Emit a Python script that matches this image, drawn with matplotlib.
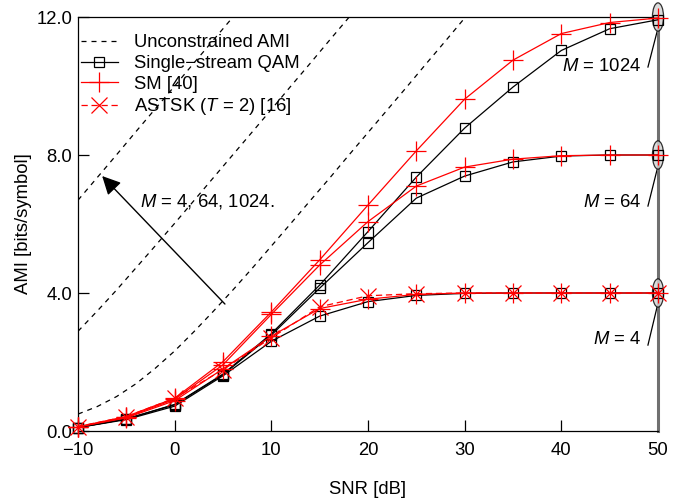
import matplotlib
matplotlib.use("Agg")
import matplotlib.pyplot as plt
from matplotlib.patches import Ellipse

# === Fonts ===
plt.rcParams['font.family'] = ['Liberation Sans', 'DejaVu Sans']
plt.rcParams['mathtext.fontset'] = 'custom'
plt.rcParams['mathtext.rm'] = 'Liberation Sans'
plt.rcParams['mathtext.it'] = 'Liberation Sans:italic'
FS = 13.3

# === Data ===
snr = [-10, -5, 0, 5, 10, 15, 20, 25, 30, 35, 40, 45, 50]

qam_4 = [0.10, 0.33, 0.72, 1.60, 2.60, 3.33, 3.75, 3.93, 3.99, 4.0, 4.0, 4.0, 4.0]
sm_4 = [0.12, 0.38, 0.88, 1.80, 2.75, 3.55, 3.82, 3.96, 4.0, 4.0, 4.0, 4.0, 4.0]
astsk_4 = [0.13, 0.42, 0.95, 1.78, 2.70, 3.60, 3.92, 3.98, 4.0, 4.0, 4.0, 4.0, 4.0]

qam_64 = [0.10, 0.35, 0.76, 1.63, 2.78, 4.14, 5.46, 6.75, 7.39, 7.80, 7.97, 8.0, 8.0]
sm_64 = [0.12, 0.40, 0.92, 1.92, 3.38, 4.81, 6.07, 7.10, 7.65, 7.88, 7.98, 8.0, 8.0]

qam_1024 = [0.10, 0.35, 0.77, 1.65, 2.82, 4.23, 5.78, 7.36, 8.78, 9.97, 11.03, 11.66, 11.92]
sm_1024 = [0.12, 0.42, 0.95, 2.01, 3.45, 4.96, 6.55, 8.12, 9.62, 10.75, 11.52, 11.84, 11.97]

# unconstrained AMI curves (every 2 dB)
snr_ua4 = list(range(-10, 33, 2))
ua_4 = [0.49, 0.71, 1.00, 1.37, 1.82, 2.32, 2.88, 3.47, 4.08, 4.71, 5.36,
        6.01, 6.67, 7.32, 7.99, 8.65, 9.31, 9.97, 10.64, 11.30, 11.97, 12.63]
snr_ua64 = list(range(-10, 21, 2))
ua_64 = [2.89, 3.48, 4.09, 4.73, 5.37, 6.02, 6.68, 7.34, 8.00, 8.66, 9.32,
         9.99, 10.65, 11.32, 11.98, 12.64]
snr_ua1024 = list(range(-10, 9, 2))
ua_1024 = [6.69, 7.35, 8.01, 8.68, 9.34, 10.00, 10.67, 11.33, 11.99, 12.66]

# === Figure ===
fig = plt.figure(figsize=(6.91, 5.01), dpi=100)
ax = fig.add_axes([78 / 691, 1 - 431 / 501, 580 / 691, 414 / 501])

dash_ua = dict(color='black', lw=0.9, ls=(0, (4, 4)))
ax.plot(snr_ua4, ua_4, label='Unconstrained AMI', **dash_ua)
ax.plot(snr_ua64, ua_64, **dash_ua)
ax.plot(snr_ua1024, ua_1024, **dash_ua)

qam_style = dict(color='black', lw=0.9, marker='s', ms=7, mfc='none', mew=0.9,
                 clip_on=False, zorder=3)
sm_style = dict(color='red', lw=0.9, marker='+', ms=15, mew=0.9,
                clip_on=False, zorder=3)
astsk_style = dict(color='red', lw=0.9, ls=(0, (5, 3)), marker='x', ms=11, mew=0.9,
                   clip_on=False, zorder=3)

ax.plot(snr, qam_1024, label='Single\u2212stream QAM', **qam_style)
ax.plot(snr, qam_64, **qam_style)
ax.plot(snr, qam_4, **qam_style)
ax.plot(snr, sm_1024, label='SM [40]', **sm_style)
ax.plot(snr, sm_64, **sm_style)
ax.plot(snr, sm_4, **sm_style)
ax.plot(snr, astsk_4, label='ASTSK ($T$ = 2) [16]', **astsk_style)

# ellipses marking the saturation levels
for level in [4, 8, 12]:
    e = Ellipse((50, level), width=1.15, height=0.82, facecolor='#d4d4d4',
                edgecolor='black', lw=0.9, alpha=0.8, clip_on=False, zorder=2.7)
    ax.add_patch(e)

# labels with leader lines
labels = [('$M$ = 1024', 10.56, 10.55, 11.57),
          ('$M$ = 64', 6.61, 6.52, 7.57),
          ('$M$ = 4', 2.64, 2.49, 3.59)]
for txt, ty, y0, y1 in labels:
    ax.text(48.3, ty, txt, ha='right', va='center', fontsize=FS)
    ax.plot([48.96, 49.9], [y0, y1], color='black', lw=0.9, clip_on=False)

# arrow annotation
ax.annotate('', xy=(-7.5, 7.39), xytext=(5.2, 3.68),
            arrowprops=dict(arrowstyle='-|>', mutation_scale=28, color='black',
                            lw=1.0, shrinkA=0, shrinkB=0))
ax.text(3.4, 6.64, '$M$ = 4, 64, 1024.', ha='center', va='center', fontsize=FS)

# === Axes styling ===
ax.set_xlim(-10, 50)
ax.set_ylim(0, 12)
ax.set_xticks([-10, 0, 10, 20, 30, 40, 50])
ax.set_yticks([0, 4, 8, 12])
ax.set_yticklabels(['0.0', '4.0', '8.0', '12.0'])
ax.tick_params(direction='in', length=8, width=0.9, labelsize=FS)
ax.tick_params(axis='x', pad=8)
ax.tick_params(axis='y', pad=4)
for s in ['left', 'bottom', 'top']:
    ax.spines[s].set_linewidth(0.9)
ax.spines['right'].set_color('#707070')
ax.spines['right'].set_linewidth(2.2)

ax.set_xlabel('SNR [dB]', fontsize=FS, labelpad=16)
ax.set_ylabel('AMI [bits/symbol]', fontsize=FS, labelpad=3)

ax.legend(loc='upper left', bbox_to_anchor=(0.005, 0.958), frameon=False,
          fontsize=FS, borderaxespad=0, borderpad=0, handlelength=2.0,
          handletextpad=0.9, labelspacing=0.2)

plt.savefig('out.png', dpi=100)
